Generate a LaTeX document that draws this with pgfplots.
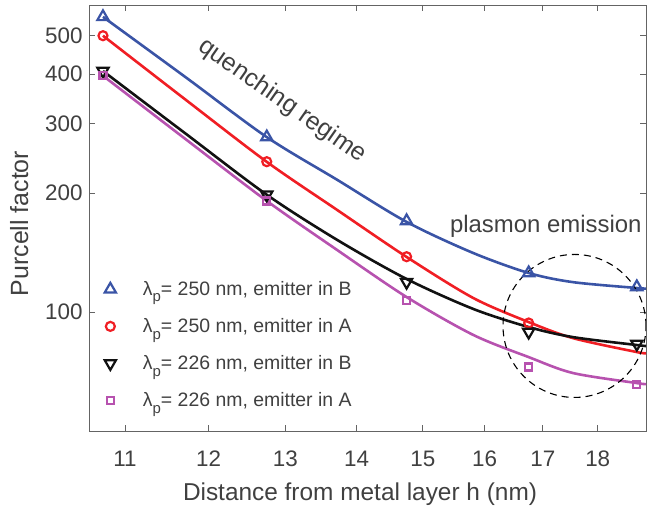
\documentclass[border=0pt]{standalone}
\usepackage{fontspec}
\setmainfont{Liberation Sans}
\usepackage{pgfplots}
\pgfplotsset{compat=1.18}
\usepackage{pgfplotstable}
\definecolor{cblue}{RGB}{58,84,166}
\definecolor{cred}{RGB}{240,30,36}
\definecolor{cblack}{RGB}{17,17,17}
\definecolor{cmag}{RGB}{183,82,175}
\definecolor{txt}{RGB}{64,64,64}
\definecolor{axc}{RGB}{100,100,100}

\pgfplotstableread{
x blue red black mag
10.75 558 500 407 396
12.75 277 240 198 191
14.75 170 138 119 107
16.75 125.5 93.8 89 72.6
18.75 115.7 nan 83 65.7
}\marks
\pgfplotstableread{
x blue red black mag
10.75 558 500 407 396
11.71 393.5 345.2 283.3 274.3
12.75 277 239.8 198 191
13.72 216 181.2 152.2 143.5
14.75 169 137.8 121.2 109.1
15.81 141 108.5 101.8 87.5
16.75 125.5 94.3 91.6 76.9
17.54 119 85.9 86.4 70.1
18.75 115.0 79.2 82.5 66.1
18.93 114.6 78.7 82.0 65.7
}\curves

\newcommand{\lam}{λ\raisebox{-0.62ex}{\fontsize{15}{15}\selectfont p}}

\begin{document}
\begin{tikzpicture}
\begin{axis}[
  scale only axis, width=557bp, height=426bp,
  xmode=log, ymode=log,
  xmin=10.595, xmax=18.93, ymin=50, ymax=598,
  xtick={11,12,13,14,15,16,17,18}, xticklabels={11,12,13,14,15,16,17,18},
  ytick={100,200,300,400,500}, yticklabels={100,200,300,400,500},
  minor xtick={}, minor ytick={},
  tick align=inside, major tick length=6bp,
  axis line style={axc, line width=0.9bp}, tick style={axc, line width=0.9bp},
  ticklabel style={font=\fontsize{22.5}{26}\selectfont, text=txt},
  xticklabel style={yshift=-16.5bp},
  yticklabel style={xshift=-3bp},
  xlabel={Distance from metal layer h (nm)},
  ylabel={Purcell factor},
  xlabel style={font=\fontsize{24.5}{28}\selectfont, text=txt, at={(axis description cs:0.4865,-0.162)}, anchor=base},
  ylabel style={font=\fontsize{25}{28}\selectfont, text=txt, at={(axis description cs:-0.1095,0.487)}, anchor=base},
  legend style={at={(axis description cs:0.0278,0.356)}, anchor=north west, draw=none, fill=none,
    font=\fontsize{19.5}{22}\selectfont, text=txt, inner sep=0pt, row sep=17.5bp, /tikz/column sep=25bp},
  legend cell align=left,
]
\addplot[cblue, line width=2.6bp, smooth, forget plot] table[x=x,y=blue]{\curves};
\addplot[cred, line width=2.6bp, smooth, forget plot] table[x=x,y=red]{\curves};
\addplot[cblack, line width=2.6bp, smooth, forget plot] table[x=x,y=black]{\curves};
\addplot[cmag, line width=2.6bp, smooth, forget plot] table[x=x,y=mag]{\curves};

\addplot[only marks, mark=triangle, mark size=6.5bp, cblue, line width=2.2bp] table[x=x,y=blue]{\marks};
\addlegendentry{\lam= 250 nm, emitter in B}
\addplot[only marks, mark=o, mark size=4.5bp, cred, line width=2.2bp] table[x=x,y=red]{\marks};
\addlegendentry{\lam= 250 nm, emitter in A}
\addplot[only marks, mark=triangle, mark options={rotate=180}, mark size=6.5bp, cblack, line width=2.2bp] table[x=x,y=black]{\marks};
\addlegendentry{\lam= 226 nm, emitter in B}
\addplot[only marks, mark=square, mark size=3.5bp, cmag, line width=2.2bp] table[x=x,y=mag]{\marks};
\addlegendentry{\lam= 226 nm, emitter in A}

\node[rotate=-35, text=txt, font=\fontsize{25}{28}\selectfont] at (axis cs:12.955,342) {quenching regime};
\node[anchor=base west, text=txt, font=\fontsize{24}{28}\selectfont, inner sep=0pt] at (axis cs:15.43,158.5) {plasmon emission};
\draw[black, line width=1.1bp, dash pattern=on 7bp off 5bp] (axis cs:17.57,92.2) circle[radius=71.5bp];
\end{axis}
\pgfresetboundingbox
\path (current axis.south west) ++(-89bp,-78bp) coordinate (bl);
\path (current axis.north east) ++(2bp,5bp) coordinate (tr);
\path[use as bounding box] (bl) rectangle (tr);
\end{tikzpicture}
\end{document}
